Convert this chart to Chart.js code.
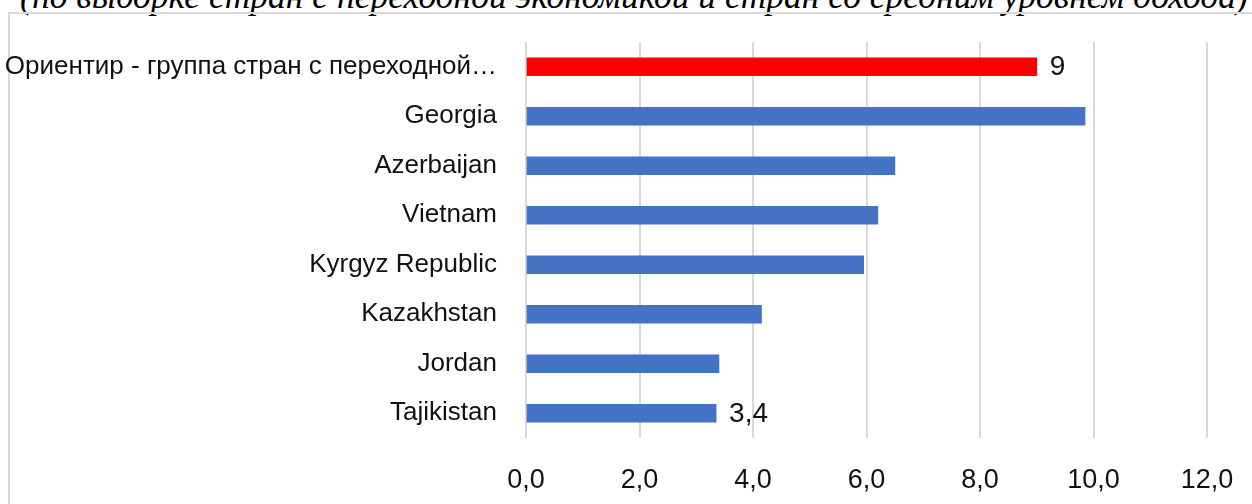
<!DOCTYPE html>
<html>
<head>
<meta charset="utf-8">
<script src="https://cdn.jsdelivr.net/npm/chart.js@4"></script>
<style>
  html, body { margin: 0; padding: 0; background: #fff; overflow: hidden; }
  body { width: 1252px; height: 504px; position: relative; }
  #title {
    position: absolute; left: 0; width: 1268px; top: -22px;
    text-align: center; white-space: nowrap;
    font: italic 35.5px/36px "Liberation Serif", "Times New Roman", serif; color: #000;
  }
  #frame {
    position: absolute; left: 8px; top: 12px; width: 1300px; height: 600px;
    border-left: 2px solid #d9d9d9; border-top: 2px solid #d9d9d9;
  }
  #wrap { position: absolute; left: 0; top: 0; width: 1252px; height: 504px; }
</style>
</head>
<body>
<div id="title">(по выборке стран с переходной экономикой и стран со средним уровнем дохода)</div>
<div id="frame"></div>
<div id="wrap"><canvas id="chart"></canvas></div>
<script>
const categories = [
  'Ориентир - группа стран с переходной…',
  'Georgia',
  'Azerbaijan',
  'Vietnam',
  'Kyrgyz Republic',
  'Kazakhstan',
  'Jordan',
  'Tajikistan'
];
const values = [9, 9.85, 6.5, 6.2, 5.95, 4.15, 3.4, 3.35];
const barColors = ['#ff0000', '#4472c4', '#4472c4', '#4472c4', '#4472c4', '#4472c4', '#4472c4', '#4472c4'];
// only the first and last bars carry a value label
const valueLabels = ['9', '', '', '', '', '', '', '3,4'];
const xTicks = [0, 2, 4, 6, 8, 10, 12];

const FONT = '"Liberation Sans", Arial, sans-serif';

// Value labels to the right of the bars
const barLabels = {
  id: 'barLabels',
  afterDatasetsDraw(chart) {
    const ctx = chart.ctx;
    const meta = chart.getDatasetMeta(0);
    ctx.save();
    ctx.font = '28px ' + FONT;
    ctx.fillStyle = '#111';
    ctx.textAlign = 'left';
    ctx.textBaseline = 'middle';
    meta.data.forEach((bar, i) => {
      if (!valueLabels[i]) return;
      ctx.fillText(valueLabels[i], bar.x + 13, bar.y + 1);
    });
    ctx.restore();
  }
};

new Chart(document.getElementById('chart'), {
  type: 'bar',
  data: {
    labels: categories,
    datasets: [{
      data: values,
      backgroundColor: barColors,
      borderWidth: 0,
      barThickness: 18
    }]
  },
  options: {
    indexAxis: 'y',
    responsive: true,
    maintainAspectRatio: false,
    animation: false,
    layout: { padding: { left: 0, right: 45, top: 42, bottom: 0 } },
    plugins: { legend: { display: false }, tooltip: { enabled: false } },
    scales: {
      x: {
        min: 0, max: 12,
        afterBuildTicks(axis) { axis.ticks = xTicks.map(v => ({ value: v })); },
        // invisible tick marks push the labels down without widening the side padding
        grid: { color: '#d9d9d9', lineWidth: 2, drawTicks: true, tickLength: 26, tickColor: 'rgba(0,0,0,0)' },
        border: { display: false },
        ticks: {
          padding: 0,
          color: '#111',
          font: { family: FONT, size: 27 },
          callback: v => v.toFixed(1).replace('.', ',')
        },
        afterFit(axis) { axis.height = 66; }
      },
      y: {
        grid: { display: false, drawTicks: true, tickLength: 29, tickColor: 'rgba(0,0,0,0)' },
        border: { display: false },
        ticks: {
          padding: 0,
          color: '#111',
          font: { family: FONT, size: 26 }
        },
        afterFit(axis) { axis.width = 526; }
      }
    }
  },
  plugins: [barLabels]
});
</script>
</body>
</html>
